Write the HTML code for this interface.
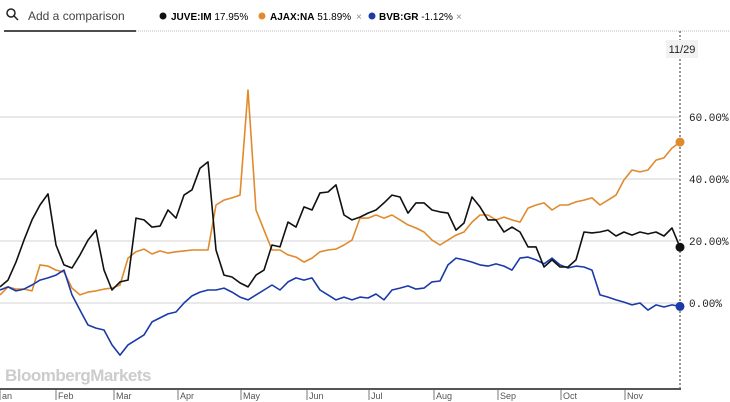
<!DOCTYPE html>
<html><head><meta charset="utf-8"><style>
body{margin:0;width:730px;height:402px;overflow:hidden;background:#fff;font-family:"Liberation Sans",sans-serif}
svg{position:absolute;left:0;top:0}
</style></head><body>
<svg id="chart" width="730" height="402">
  <g>
    <circle cx="11" cy="13" r="4" fill="none" stroke="#222" stroke-width="1.5"/>
    <line x1="14" y1="16" x2="18" y2="20" stroke="#222" stroke-width="1.5"/>
    <text x="28" y="20" font-size="12" fill="#444">Add a comparison</text>
    <line x1="4" y1="31" x2="136" y2="31" stroke="#111" stroke-width="1.5"/>
  </g>
  <line x1="136" y1="31" x2="730" y2="31" stroke="#bbb" stroke-width="1" stroke-dasharray="1,1"/>
  <g font-size="10">
    <g><circle cx="163" cy="16" r="3.5" fill="#111"/><text x="171" y="20"><tspan font-weight="bold">JUVE:IM</tspan> 17.95%</text></g>
    <g><circle cx="262" cy="16" r="3.5" fill="#e08a2c"/><text x="270" y="20"><tspan font-weight="bold">AJAX:NA</tspan> 51.89%</text><text x="356" y="20" fill="#888">×</text></g>
    <g><circle cx="372" cy="16" r="3.5" fill="#1a3aa8"/><text x="379" y="20"><tspan font-weight="bold">BVB:GR</tspan> -1.12%</text><text x="456" y="20" fill="#888">×</text></g>
  </g>
  <g id="grid"></g>
  <text x="5" y="381" font-size="17" font-weight="bold" fill="#ccc" letter-spacing="-0.5">BloombergMarkets</text>
  <line x1="680" y1="31" x2="680" y2="390" stroke="#333" stroke-width="1" stroke-dasharray="2,2"/>
  <rect x="666" y="40" width="32" height="18" fill="#f2f2f2"/>
  <text x="682" y="53" font-size="11" text-anchor="middle" fill="#222">11/29</text>
  <line x1="0" y1="389" x2="681" y2="389" stroke="#555" stroke-width="2"/>
  <g id="series"></g>
  <g id="xaxis" font-size="9" fill="#555"></g>
</svg>
<script>
const months = ["an","Feb","Mar","Apr","May","Jun","Jul","Aug","Sep","Oct","Nov"];
const monthPos = [0,56,114,178,241,307,369,434,498,561,625];
const yTicks = [0,20,40,60];
const juve = [5.2,7.4,13.2,20.3,26.8,31.6,35.2,18.7,12.3,11.3,15.5,20.3,23.5,10.6,4.2,6.8,7.4,27.4,26.8,24.5,24.8,30,27.4,34.8,36.5,43.5,45.5,17.1,9,8.4,6.5,5.2,9,10.6,18.7,18.1,26.1,24.5,31,30,35.5,35.8,38.1,28.4,26.8,27.7,29,30,32.3,34.8,34.2,29,32.3,32.3,30,29.4,29,23.5,25.8,34.2,31,26.8,26.8,22.9,24.5,22.9,18.1,18.1,11.6,13.9,11.6,11.6,13.9,22.9,22.6,22.9,23.5,21.6,22.9,21.9,22.9,22.3,22.9,21.6,24.2,18];
const ajax = [2.6,5.2,4.5,4.5,3.9,12.3,11.9,10.6,10,4.8,2.6,3.5,3.9,4.5,4.8,5.8,14.5,16.5,17.4,15.8,16.8,16.1,16.5,16.8,17.1,17.1,17.1,31.6,33.2,33.9,34.8,68.7,30,23.5,17.1,17.1,15.5,14.8,13.2,14.5,16.5,17.1,17.4,18.7,20.3,27.4,27.4,28.4,27.4,28.4,26.8,25.2,24.2,22.9,20.3,18.7,20.3,21.9,22.9,26.1,28.4,28.4,26.8,27.7,26.8,26.1,30.6,31.6,32.3,30,31.6,31.6,32.6,33.2,33.9,31.6,33.2,34.8,39.7,42.9,42.3,42.9,46.1,46.8,50,51.9];
const bvb = [4.2,5.2,3.9,4.5,5.8,7.4,8.1,9,10.6,2.6,-2.3,-7.1,-8.1,-8.7,-13.5,-16.8,-13.5,-11.9,-10.3,-6.1,-4.8,-3.5,-2.9,0,2.3,3.5,4.2,4.2,4.8,3.5,1.9,1,2.6,4.2,5.8,4.2,6.8,8.1,7.4,8.1,4.2,2.6,1,1.9,1,1.9,1.6,2.9,1,4.2,4.8,5.5,4.5,4.8,6.8,7.1,12.3,14.5,13.9,13.2,12.3,11.9,12.6,11.9,10.6,14.5,14.8,13.9,12.6,14.5,12.3,11.3,11.9,11.6,10.6,2.6,1.9,1,0.3,-0.6,0,-2.3,-0.6,-1.3,-0.6,-1.1];

const NS="http://www.w3.org/2000/svg";
const X0=0,X1=680;
function xs(i,n){return X0+(X1-X0)*i/(n-1);}
function ys(v){return 303-v*3.1;}

const grid=document.getElementById('grid');
yTicks.forEach(t=>{
  const l=document.createElementNS(NS,'line');
  l.setAttribute('x1',0);l.setAttribute('x2',680);
  l.setAttribute('y1',ys(t));l.setAttribute('y2',ys(t));
  l.setAttribute('stroke','#e2e2e2');l.setAttribute('stroke-width','1.5');
  
  
  grid.appendChild(l);
  const tx=document.createElementNS(NS,'text');
  tx.setAttribute('x',689);tx.setAttribute('y',ys(t)+4);
  tx.setAttribute('font-size','11');tx.setAttribute('fill','#222');
  tx.setAttribute('font-family','"Liberation Mono",monospace');
  tx.textContent=t.toFixed(2)+'%';
  
  
  grid.appendChild(tx);
});

const xa=document.getElementById('xaxis');
months.forEach((m,i)=>{
  const l=document.createElementNS(NS,'line');
  l.setAttribute('x1',monthPos[i]);l.setAttribute('x2',monthPos[i]);
  l.setAttribute('y1',390);l.setAttribute('y2',400);
  l.setAttribute('stroke','#777');
  
  
  xa.appendChild(l);
  const t=document.createElementNS(NS,'text');
  t.setAttribute('x',monthPos[i]+2);t.setAttribute('y',399);
  t.textContent=m;
  
  
  xa.appendChild(t);
});

const sg=document.getElementById('series');
function draw(arr,color,name){
  const p=document.createElementNS(NS,'polyline');
  p.setAttribute('points',arr.map((v,i)=>xs(i,arr.length).toFixed(1)+','+ys(v).toFixed(1)).join(' '));
  p.setAttribute('fill','none');p.setAttribute('stroke',color);
  p.setAttribute('stroke-width','1.6');p.setAttribute('stroke-linejoin','round');
  
  
  sg.appendChild(p);
  const c=document.createElementNS(NS,'circle');
  c.setAttribute('cx',xs(arr.length-1,arr.length));c.setAttribute('cy',ys(arr[arr.length-1]));
  c.setAttribute('r',4.5);c.setAttribute('fill',color);
  
  
  sg.appendChild(c);
}
draw(ajax,'#e08a2c','ajax');
draw(bvb,'#1a3aa8','bvb');
draw(juve,'#111111','juve');
</script>
</body></html>
